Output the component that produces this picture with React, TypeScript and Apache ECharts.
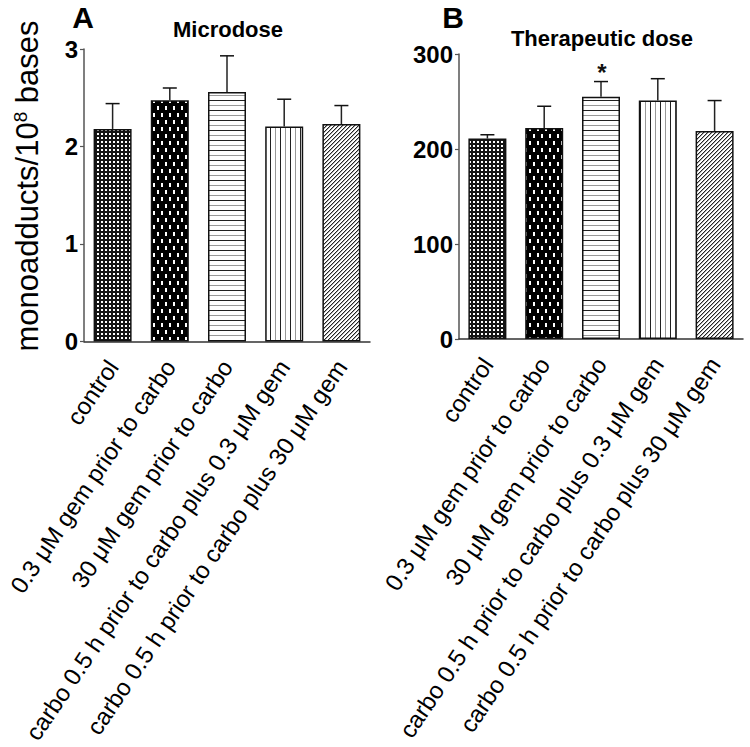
import React, { useEffect, useRef } from 'react';
import * as echarts from 'echarts';

const categories = [
  'control',
  '0.3 μM gem prior to carbo',
  '30 μM gem prior to carbo',
  'carbo 0.5 h prior to carbo plus 0.3 μM gem',
  'carbo 0.5 h prior to carbo plus 30 μM gem',
];
const microMean = [2.18, 2.475, 2.56, 2.205, 2.23];
const microErrTop = [2.44, 2.6, 2.93, 2.485, 2.42];
const microSig = ['', '', '', '', ''];
const theraMean = [211, 222, 255, 251, 219];
const theraErrTop = [215, 245, 271, 274, 251];
const theraSig = ['', '', '*', '', ''];
const microAxis = { min: 0, max: 3, interval: 1 };
const theraAxis = { min: 0, max: 300, interval: 100 };

const FONT = "'Liberation Sans', Arial, sans-serif";

function makePattern(kind: number) {
  const c = document.createElement('canvas');
  let w = 4, h = 4;
  if (kind === 0) { w = 4; h = 4; }
  if (kind === 1) { w = 8; h = 14; }
  if (kind === 2) { w = 4; h = 10; }
  if (kind === 3) { w = 10; h = 4; }
  if (kind === 4) { w = 4; h = 4; }
  c.width = w; c.height = h;
  const ctx = c.getContext('2d')!;
  ctx.fillStyle = '#fff';
  ctx.fillRect(0, 0, w, h);
  if (kind === 0) {
    ctx.fillStyle = '#151515';
    ctx.fillRect(0, 0, w, h);
    ctx.fillStyle = '#fff';
    ctx.fillRect(1, 1, 2, 2);
  } else if (kind === 1) {
    ctx.fillStyle = '#000';
    ctx.fillRect(0, 0, w, h);
    ctx.fillStyle = '#fff';
    ctx.fillRect(1, 1, 2, 4);
    ctx.fillRect(5, 8, 2, 4);
  } else if (kind === 2) {
    ctx.fillStyle = '#222';
    ctx.fillRect(0, 0, w, 1);
    ctx.fillStyle = '#999';
    ctx.fillRect(0, 5, w, 1);
  } else if (kind === 3) {
    ctx.fillStyle = '#222';
    ctx.fillRect(0, 0, 1, h);
    ctx.fillStyle = '#999';
    ctx.fillRect(5, 0, 1, h);
  } else if (kind === 4) {
    for (let x = 0; x < 4; x++) {
      ctx.fillStyle = '#222';
      ctx.fillRect(x, 3 - x, 1, 1);
      ctx.fillStyle = '#aaa';
      ctx.fillRect((x + 1) % 4, 3 - x, 1, 1);
    }
  }
  return { image: c, repeat: 'repeat', imageWidth: w, imageHeight: h } as any;
}

export default function App() {
  const ref = useRef<HTMLDivElement>(null);
  useEffect(() => {
    if (!ref.current) return;
    const chart = echarts.init(ref.current, null, { renderer: 'svg' });
    const patterns = [0, 1, 2, 3, 4].map(makePattern);

    const barData = (vals: number[]) =>
      vals.map((v, i) => ({ value: v, itemStyle: { color: patterns[i] } }));

    const errSeries = (idx: number, mean: number[], top: number[], sig: string[]) => ({
      type: 'custom',
      xAxisIndex: idx,
      yAxisIndex: idx,
      z: 5,
      data: mean.map((m, i) => [i, m, top[i]]),
      encode: { x: 0, y: 2 },
      renderItem: (params: any, api: any) => {
        const i = api.value(0);
        const b = api.coord([i, api.value(1)]);
        const t = api.coord([i, api.value(2)]);
        const hw = 7;
        const children: any[] = [
          { type: 'line', shape: { x1: b[0], y1: b[1], x2: t[0], y2: t[1] }, style: { stroke: '#222', lineWidth: 1.5 } },
          { type: 'line', shape: { x1: t[0] - hw, y1: t[1], x2: t[0] + hw, y2: t[1] }, style: { stroke: '#111', lineWidth: 1.5 } },
        ];
        const s = sig[params.dataIndex];
        if (s) {
          children.push({
            type: 'text',
            style: { text: s, x: t[0] + 1, y: t[1] - 21, align: 'center', verticalAlign: 'top', font: `bold 24px ${FONT}`, fill: '#111' },
          });
        }
        return { type: 'group', children };
      },
    });

    const xAxisCommon = {
      type: 'category',
      data: categories,
      axisTick: { show: false },
      axisLine: { lineStyle: { color: '#333', width: 1.5 } },
      axisLabel: { interval: 0, rotate: 56, fontSize: 24, fontFamily: FONT, color: '#000', margin: 21 },
    };
    const yAxisCommon = {
      type: 'value',
      splitLine: { show: false },
      axisLine: { show: true, lineStyle: { color: '#555', width: 1.5 } },
      axisTick: { show: true, length: 4, lineStyle: { color: '#555', width: 1.2 } },
      axisLabel: { fontSize: 24, fontWeight: 'bold', fontFamily: FONT, color: '#000', margin: 6 },
    };

    chart.setOption({
      animation: false,
      backgroundColor: '#fff',
      grid: [
        { left: 84, top: 49, width: 286, height: 296 },
        { left: 459, top: 54, width: 284, height: 285 },
      ],
      xAxis: [
        { ...xAxisCommon, gridIndex: 0 },
        { ...xAxisCommon, gridIndex: 1 },
      ],
      yAxis: [
        { ...yAxisCommon, gridIndex: 0, ...microAxis },
        { ...yAxisCommon, gridIndex: 1, ...theraAxis },
      ],
      series: [
        {
          type: 'bar', xAxisIndex: 0, yAxisIndex: 0, barWidth: 38,
          itemStyle: { borderColor: '#111', borderWidth: 1.5 },
          data: barData(microMean),
        },
        {
          type: 'bar', xAxisIndex: 1, yAxisIndex: 1, barWidth: 38,
          itemStyle: { borderColor: '#111', borderWidth: 1.5 },
          data: barData(theraMean),
        },
        errSeries(0, microMean, microErrTop, microSig),
        errSeries(1, theraMean, theraErrTop, theraSig),
      ],
      graphic: [
        { type: 'text', x: 83, y: 17, style: { text: 'A', font: `bold 30px ${FONT}`, fill: '#000', align: 'center', verticalAlign: 'middle' } },
        { type: 'text', x: 228, y: 29, style: { text: 'Microdose', font: `bold 22px ${FONT}`, fill: '#000', align: 'center', verticalAlign: 'middle' } },
        { type: 'text', x: 453, y: 17, style: { text: 'B', font: `bold 30px ${FONT}`, fill: '#000', align: 'center', verticalAlign: 'middle' } },
        { type: 'text', x: 602, y: 38, style: { text: 'Therapeutic dose', font: `bold 22px ${FONT}`, fill: '#000', align: 'center', verticalAlign: 'middle' } },
        {
          type: 'text', x: 27, y: 186, rotation: Math.PI / 2,
          style: {
            text: 'monoadducts/10{sup|8} bases',
            font: `31px ${FONT}`, fill: '#000', align: 'center', verticalAlign: 'middle',
            rich: { sup: { fontSize: 19, fontFamily: FONT, verticalAlign: 'top', lineHeight: 33, padding: [0, 0, 10, 0] } },
          },
        },
      ],
    });
    return () => chart.dispose();
  }, []);
  return <div ref={ref} style={{ position: 'absolute', left: 0, top: 0, width: 750, height: 747, background: '#fff' }} />;
}
